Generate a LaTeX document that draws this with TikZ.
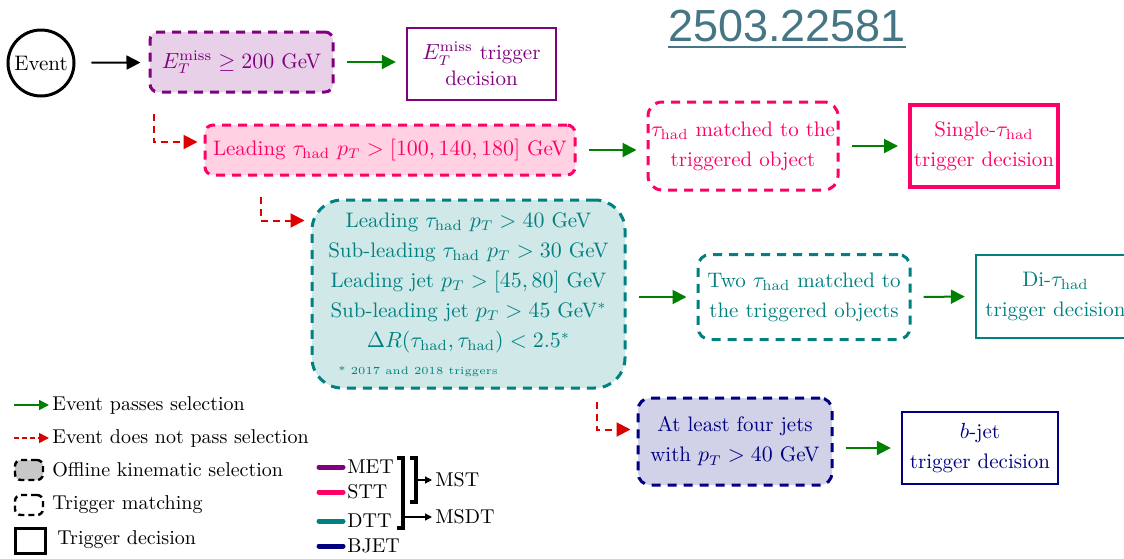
\documentclass[tikz,border=0pt]{standalone}
\usepackage{amsmath}
\usepackage{fontspec}
\newfontfamily\titlefont{Liberation Sans}
\usetikzlibrary{arrows.meta,positioning,calc}

\definecolor{metcol}{RGB}{128,0,128}
\definecolor{sttcol}{RGB}{255,0,102}
\definecolor{dttcol}{RGB}{0,128,128}
\definecolor{bjetcol}{RGB}{0,0,128}
\definecolor{passcol}{RGB}{0,128,0}
\definecolor{failcol}{RGB}{220,0,0}
\definecolor{titlecol}{RGB}{70,118,134}

\newcommand{\boxfont}{\fontsize{10.5}{15}\selectfont}
\newcommand{\had}{\mathrm{had}}

\tikzset{
  selbox/.style={draw=#1, fill=#1!18, text=#1, line width=1.5pt,
    dash pattern=on 4.5pt off 3.5pt, rounded corners=4pt, align=center,
    font=\boxfont, inner sep=0pt},
  matchbox/.style={draw=#1, text=#1, line width=1.5pt,
    dash pattern=on 4.5pt off 3.5pt, rounded corners=7pt, align=center,
    font=\boxfont, inner sep=0pt},
  decbox/.style={draw=#1, text=#1, line width=1.2pt, align=center,
    font=\boxfont, inner sep=0pt},
  passarrow/.style={draw=passcol, line width=1pt,
    -{Triangle[length=7pt,width=7pt]}, shorten <=6pt, shorten >=5pt},
  failarrow/.style={draw=failcol, line width=1pt, dash pattern=on 3.5pt off 2.5pt,
    -{Triangle[length=7pt,width=7pt]}, shorten >=3pt},
  legtext/.style={anchor=west, font=\fontsize{10}{12}\selectfont, inner sep=0pt},
  legline/.style={line width=2.5pt, line cap=round},
}

\begin{document}
\begin{tikzpicture}[x=0.5pt,y=-0.5pt]
  \useasboundingbox (0,0) rectangle (1124,558);

  % title
  \node[font=\titlefont\fontsize{22.5}{27}\selectfont, text=titlecol, inner sep=0pt] (arxiv) at (787,26) {2503.22581};
  \draw[titlecol, line width=1pt] ([yshift=-2.5pt]arxiv.south west) -- ([yshift=-2.5pt]arxiv.south east);

  % MET chain
  \node[circle, draw, line width=1.5pt, minimum size=33pt, inner sep=0pt, font=\boxfont] (event) at (41,63) {Event};
  \node[selbox=metcol, minimum width=91.5pt, minimum height=30pt] (met) at (241.5,62) {$E_T^{\mathrm{miss}} \geq 200$ GeV};
  \node[decbox=metcol, minimum width=74.5pt, minimum height=36pt, font=\fontsize{10.5}{13}\selectfont] (metdec) at (481.5,64) {$E_T^{\mathrm{miss}}$ trigger\\decision};
  \draw[line width=1pt, -{Triangle[length=7pt,width=7pt]}, shorten <=8pt, shorten >=4pt] (event) -- (met);
  \draw[passarrow] (met.east) -- (met.east -| metdec.west);

  % single tau chain
  \node[selbox=sttcol, minimum width=185pt, minimum height=25pt] (stt) at (390,150) {Leading $\tau_{\had}$ $p_T > [100, 140, 180]$ GeV};
  \node[matchbox=sttcol, minimum width=95pt, minimum height=44pt] (sttmatch) at (743,146) {$\tau_{\had}$ matched to the\\triggered object};
  \node[decbox=sttcol, line width=2pt, minimum width=74pt, minimum height=41pt] (sttdec) at (984,146) {Single-$\tau_{\had}$\\trigger decision};
  \draw[failarrow] ([xshift=2.5pt,yshift=-10pt]met.south west) |- ([yshift=4pt]stt.west);
  \draw[passarrow] (stt.east) -- (stt.east -| sttmatch.west);
  \draw[passarrow] (sttmatch.east) -- (sttdec.west);

  % di-tau chain
  \node[selbox=dttcol, rounded corners=15pt, minimum width=156.5pt, minimum height=94pt] (dtt) at (468.5,294) {};
  \node[text=dttcol, align=center, font=\boxfont, inner sep=0pt] (dtttext) at (468.5,283) {Leading $\tau_{\had}$ $p_T > 40$ GeV\\Sub-leading $\tau_{\had}$ $p_T > 30$ GeV\\Leading jet $p_T > [45, 80]$ GeV\\Sub-leading jet $p_T > 45$ GeV$^*$\\$\Delta R(\tau_{\had}, \tau_{\had}) < 2.5^*$};
  \node[text=dttcol, anchor=west, font=\fontsize{5.4}{7}\selectfont, inner sep=0pt] (dttnote) at (338,372) {* 2017 and 2018 triggers};
  \node[matchbox=dttcol, rounded corners=6pt, minimum width=106pt, minimum height=42.5pt] (dttmatch) at (804,297) {Two $\tau_{\had}$ matched to\\the triggered objects};
  \node[decbox=dttcol, minimum width=79.5pt, minimum height=41.5pt] (dttdec) at (1055.5,296.5) {Di-$\tau_{\had}$\\trigger decision};
  \draw[failarrow] ([xshift=28.5pt,yshift=-10pt]stt.south west) |- ([yshift=-11pt]dtt.north west);
  \draw[passarrow] (dttmatch.west -| dtt.east) -- (dttmatch.west);
  \draw[passarrow] (dttmatch.east) -- (dttdec.west);

  % b-jet chain
  \node[selbox=bjetcol, rounded corners=6pt, minimum width=97pt, minimum height=43.5pt] (bjet) at (735,441.5) {At least four jets\\with $p_T > 40$ GeV};
  \node[decbox=bjetcol, minimum width=78pt, minimum height=36pt] (bjetdec) at (980,448) {$b$-jet\\trigger decision};
  \draw[failarrow] ([xshift=-15pt,yshift=-6pt]dtt.south east) |- ([yshift=6pt]bjet.west);
  \draw[passarrow] (bjetdec.west -| bjet.east) -- (bjetdec.west);

  % legend, left
  \node[legtext] (legpass) at (52,405) {Event passes selection};
  \node[legtext] (legfail) at (52,438) {Event does not pass selection};
  \node[legtext] (legsel) at (52,470) {Offline kinematic selection};
  \node[legtext] (legmatch) at (52,505) {Trigger matching};
  \node[legtext] (legdec) at (57,540) {Trigger decision};
  \draw[passcol, line width=0.8pt, -{Triangle[length=5pt,width=5pt]}] ([xshift=-19pt]legpass.west) -- ([xshift=-1.5pt]legpass.west);
  \draw[failcol, line width=0.8pt, dash pattern=on 2.5pt off 1.5pt, -{Triangle[length=5pt,width=5pt]}] ([xshift=-19pt]legfail.west) -- ([xshift=-1.5pt]legfail.west);
  \node[draw, fill=black!22, line width=1.2pt, dash pattern=on 3pt off 2pt, rounded corners=3pt, minimum width=14pt, minimum height=10pt, inner sep=0pt] (legselbox) at (29,470) {};
  \node[draw, line width=1.2pt, dash pattern=on 3pt off 2pt, rounded corners=3pt, minimum width=14pt, minimum height=10pt, inner sep=0pt] (legmatchbox) at (29,505) {};
  \node[draw, line width=1.5pt, minimum width=15pt, minimum height=12.5pt, inner sep=0pt] (legdecbox) at (30,541) {};

  % legend, trigger streams
  \node[legtext] (legmet) at (347,467) {MET};
  \node[legtext] (legstt) at (347,492) {STT};
  \node[legtext] (legdtt) at (347,521) {DTT};
  \node[legtext] (legbjet) at (347,546) {BJET};
  \draw[legline, metcol] ([xshift=-14pt]legmet.west) -- ([xshift=-2pt]legmet.west);
  \draw[legline, sttcol] ([xshift=-14pt]legstt.west) -- ([xshift=-2pt]legstt.west);
  \draw[legline, dttcol] ([xshift=-14pt]legdtt.west) -- ([xshift=-2pt]legdtt.west);
  \draw[legline, bjetcol] ([xshift=-14pt]legbjet.west) -- ([xshift=-2pt]legbjet.west);
  \draw[line width=1.8pt] (397,458) -- (403,458) -- (403,528) -- (397,528);
  \draw[line width=1.8pt] (410,458) -- (416,458) -- (416,502) -- (410,502);
  \node[legtext] (legmst) at (435,480) {MST};
  \node[legtext] (legmsdt) at (435,517) {MSDT};
  \draw[line width=0.6pt, -{Triangle[length=3.5pt,width=3.5pt]}] (416,480) -- ([xshift=-1.5pt]legmst.west);
  \draw[line width=0.6pt, -{Triangle[length=3.5pt,width=3.5pt]}] (403,517) -- ([xshift=-1.5pt]legmsdt.west);
\end{tikzpicture}
\end{document}
